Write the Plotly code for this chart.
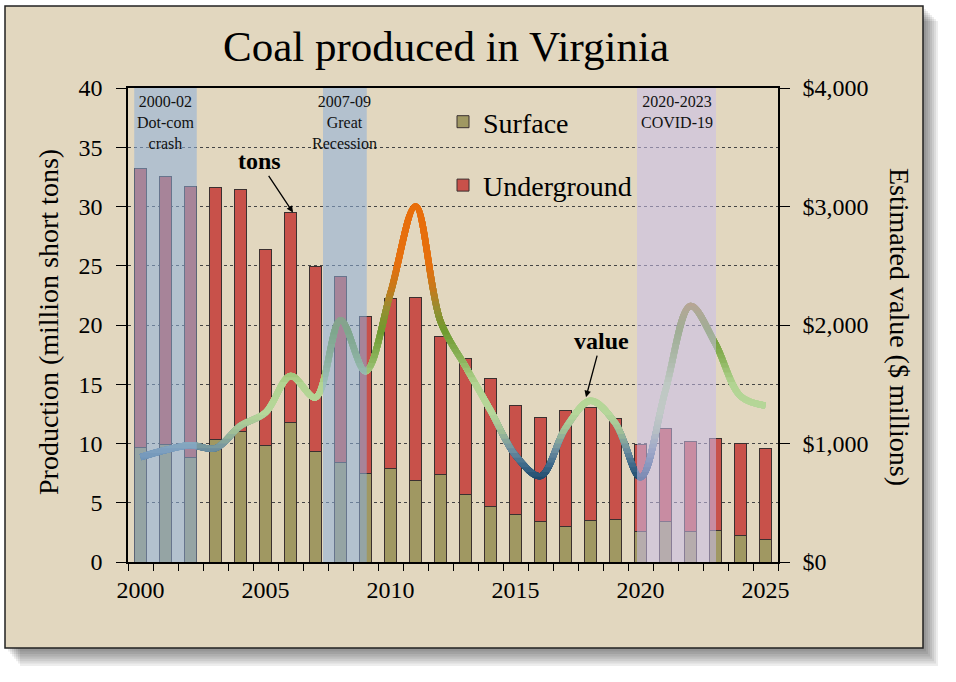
import plotly.graph_objects as go

# --- data ---
years = list(range(2000, 2026))
surface = [9.7, 9.9, 8.8, 10.3, 11.0, 9.8, 11.8, 9.3, 8.4, 7.5, 7.9, 6.9, 7.4,
           5.7, 4.7, 4.0, 3.4, 3.0, 3.5, 3.6, 2.6, 3.4, 2.6, 2.7, 2.2, 1.9]
underground = [23.5, 22.6, 22.9, 21.3, 20.4, 16.6, 17.7, 15.6, 15.7, 13.2, 14.3, 15.4, 11.6,
               11.5, 10.8, 9.2, 8.8, 9.8, 9.5, 8.5, 7.3, 7.9, 7.6, 7.7, 7.8, 7.7]
value = [885, 945, 985, 960, 1150, 1260, 1570, 1390, 2040, 1610, 2270, 3000, 2030,
         1650, 1280, 900, 725, 1130, 1360, 1170, 715, 1450, 2160, 1840, 1400, 1320]

recession_labels = ["2000-02<br>Dot-com<br>crash", "2007-09<br>Great<br>Recession",
                    "2020-2023<br>COVID-19"]
recession_start = [1999.75, 2007.3, 2019.86]
recession_end = [2002.25, 2009.05, 2023.02]

# --- geometry / style ---
W, H = 956, 682
ML, MR, MT, MB = 128, 178, 88, 120
PW, PH = W - ML - MR, H - MT - MB
FONT = "Liberation Serif"


def px(xp):
    return (xp - ML) / PW


def py(yp):
    return (H - MB - yp) / PH


# line colour depends on the height of the line (vertical gradient)
color_stops = [(560, "#1a4369"), (700, "#1f4b6e"), (820, "#3f6a8a"), (950, "#6f90a0"),
               (1100, "#9fbe96"), (1250, "#b6d79a"), (1500, "#b2d492"), (1700, "#8db55e"),
               (1950, "#6e9a2e"), (2150, "#9a8c30"), (2300, "#c47a1c"), (2500, "#e5700e"),
               (3300, "#ea6c08")]


def hex_rgb(h):
    return tuple(int(h[i:i + 2], 16) for i in (1, 3, 5))


def value_color(v):
    for (v0, c0), (v1, c1) in zip(color_stops, color_stops[1:]):
        if v0 <= v <= v1:
            t = (v - v0) / (v1 - v0)
            a, b = hex_rgb(c0), hex_rgb(c1)
            r, g, bl = (round(a[i] + (b[i] - a[i]) * t) for i in range(3))
            return f"rgb({r},{g},{bl})"
    return color_stops[-1][1]


fig = go.Figure()

bar_line = dict(color="#3b3030", width=1)
fig.add_trace(go.Bar(x=years, y=surface, name="Surface", width=0.5, legendgroup="s",
                     marker=dict(color="#a09862", line=bar_line)))
fig.add_trace(go.Bar(x=years, y=underground, name="Underground", width=0.5, legendgroup="u",
                     marker=dict(color="#c8514a", line=bar_line)))
# keeps the right-hand value axis alive
fig.add_trace(go.Scatter(x=years, y=value, yaxis="y2", mode="lines", showlegend=False,
                         line=dict(color="rgba(0,0,0,0)"), hoverinfo="skip"))

# value line drawn in horizontal slices, each slice its own colour
STEP, SPAN, V0, NB = 40, 200, 560, 62
band_axes = {}
for k in range(NB):
    lo = V0 + k * STEP
    hi = lo + SPAN
    aid = 10 + k
    fig.add_trace(go.Scatter(
        x=years, y=value, xaxis="x2", yaxis=f"y{aid}", mode="lines",
        line=dict(color=value_color(lo + STEP / 2), width=6.5, shape="spline", simplify=False),
        showlegend=False, hoverinfo="skip"))
    band_axes[f"yaxis{aid}"] = dict(domain=[lo / 4000, hi / 4000], range=[lo, hi],
                                    visible=False, fixedrange=True, anchor="x2")

shapes = []
# drop shadow + card
for d in range(3, 16, 2):
    shapes.append(dict(type="rect", xref="paper", yref="paper", layer="below",
                       x0=px(5 + d), x1=px(923 + d), y0=py(648 + d * 1.2), y1=py(6 + d),
                       fillcolor="rgba(0,0,0,0.07)", line=dict(width=0)))
shapes.append(dict(type="rect", xref="paper", yref="paper", layer="below",
                   x0=px(5), x1=px(923), y0=py(648), y1=py(6),
                   fillcolor="#e2d7bf", line=dict(color="#222", width=1.5)))

rec_fill = ["rgba(140,175,218,0.55)", "rgba(140,175,218,0.55)", "rgba(200,190,235,0.55)"]
annotations = []
for lab, x0, x1, fc in zip(recession_labels, recession_start, recession_end, rec_fill):
    shapes.append(dict(type="rect", xref="x", yref="paper", layer="above",
                       x0=x0, x1=x1, y0=0, y1=1, fillcolor=fc, line=dict(width=0)))
    annotations.append(dict(text=lab, x=(x0 + x1) / 2, xref="x", yref="paper",
                            y=py(91), yanchor="top", showarrow=False,
                            font=dict(size=16, family=FONT, color="#111")))

annotations += [
    dict(text="<b>tons</b>", x=2006.1, y=29.5, xref="x", yref="y", ax=-34, ay=-51,
         showarrow=True, arrowhead=2, arrowsize=1, arrowwidth=1.3, arrowcolor="black",
         font=dict(size=24, family=FONT, color="black")),
    dict(text="<b>value</b>", x=2017.82, y=1391, xref="x", yref="y2", ax=15, ay=-56,
         showarrow=True, arrowhead=2, arrowsize=1, arrowwidth=1.3, arrowcolor="black",
         font=dict(size=24, family=FONT, color="black")),
    dict(text="Production (million short tons)", textangle=-90, x=px(48), y=py(322),
         xanchor="center", yanchor="middle", xref="paper", yref="paper", showarrow=False,
         font=dict(size=28, family=FONT, color="black")),
    dict(text="Estimated value ($ millions)", textangle=90, x=px(900), y=py(327),
         xanchor="center", yanchor="middle", xref="paper", yref="paper", showarrow=False,
         font=dict(size=28, family=FONT, color="black")),
]

axis_font = dict(size=24, family=FONT, color="black")
fig.update_layout(
    width=W, height=H,
    margin=dict(l=ML, r=MR, t=MT, b=MB, pad=0),
    paper_bgcolor="white", plot_bgcolor="rgba(0,0,0,0)",
    font=dict(family=FONT, color="black"),
    barmode="stack",
    title=dict(text="Coal produced in Virginia", x=446 / W, xanchor="center",
               y=1 - 46 / H, yanchor="middle", font=dict(size=43, family=FONT, color="black")),
    legend=dict(x=px(443), y=py(97), xanchor="left", yanchor="top",
                font=dict(size=28, family=FONT, color="black"), bgcolor="rgba(0,0,0,0)",
                traceorder="grouped", tracegroupgap=24),
    xaxis=dict(range=[1999.5, 2025.5], tickmode="linear", tick0=2000, dtick=5, ticks="",
               showline=True, linecolor="black", linewidth=1.5, mirror=True,
               showgrid=False, zeroline=False, tickfont=axis_font, ticklabelstandoff=5,
               minor=dict(ticks="outside", tick0=1999.5, dtick=1, ticklen=7,
                          tickwidth=1.3, tickcolor="black", showgrid=False)),
    xaxis2=dict(range=[1999.5, 2025.5], domain=[0, 1], visible=False, fixedrange=True,
                anchor="y10"),
    yaxis=dict(range=[0, 40], dtick=5, ticks="outside", ticklen=10, tickwidth=1.3,
               tickcolor="black", showline=True, linecolor="black", linewidth=1.5,
               showgrid=True, gridcolor="#444", griddash="3px,3px", gridwidth=1,
               zeroline=False, tickfont=axis_font, ticklabelstandoff=9),
    yaxis2=dict(overlaying="y", side="right", range=[0, 4000], dtick=1000,
                tickprefix="$", tickformat=",d", ticks="outside", ticklen=10,
                tickwidth=1.3, tickcolor="black", showline=True, linecolor="black",
                linewidth=1.5, showgrid=False, zeroline=False, tickfont=axis_font,
                ticklabelstandoff=8),
    shapes=shapes,
    annotations=annotations,
    hovermode=False,
    **band_axes,
)

# page margin off so the figure sits at the window's top-left corner
fig.write_html("out.html", config={"displayModeBar": False},
               post_script="document.body.style.margin = '0';")
